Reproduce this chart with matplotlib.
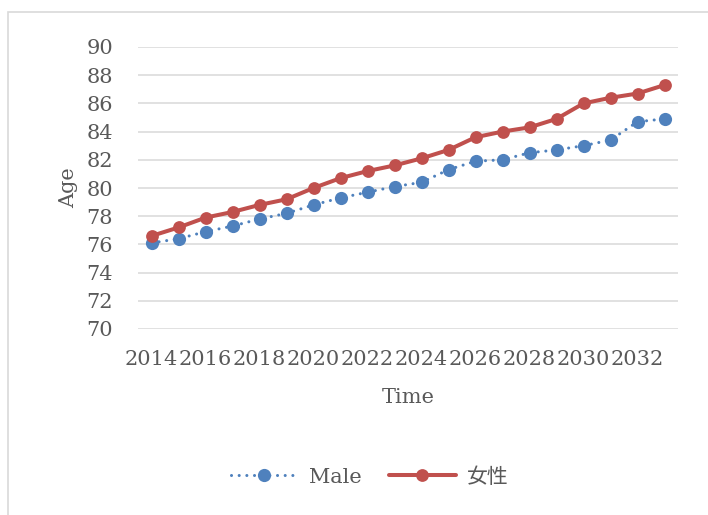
import numpy as np
import matplotlib.pyplot as plt
from matplotlib.patches import Rectangle

# Years on the category axis and life expectancy for each series
years = list(range(2014, 2034))
male = [76.1, 76.4, 76.9, 77.3, 77.8, 78.2, 78.8, 79.3, 79.7, 80.1,
        80.4, 81.3, 81.9, 82.0, 82.5, 82.7, 83.0, 83.4, 84.7, 84.9]
female = [76.6, 77.2, 77.9, 78.3, 78.8, 79.2, 80.0, 80.7, 81.2, 81.6,
          82.1, 82.7, 83.6, 84.0, 84.3, 84.9, 86.0, 86.4, 86.7, 87.3]

blue = '#4F81BD'
red = '#C0504D'
grey_text = '#595959'
grid_grey = '#D9D9D9'
serif = ['DejaVu Serif', 'Noto Sans CJK JP']
fs = 15

fig = plt.figure(figsize=(7.08, 5.15), dpi=100)
ax = fig.add_axes([138 / 708, 1 - 329 / 515, 540 / 708, 282 / 515])

x = np.arange(len(years))
ax.plot(x, male, color=blue, lw=2.2, linestyle=(0, (0.01, 2.5)),
        dash_capstyle='round', marker='o', markersize=9.5,
        markeredgewidth=0, label='Male', zorder=3)
ax.plot(x, female, color=red, lw=2.9, solid_capstyle='round',
        marker='o', markersize=9.2, markeredgewidth=0, label='女性', zorder=3)

ax.set_xlim(-0.5, len(years) - 0.5)
ax.set_ylim(70, 90)
ax.set_yticks(np.arange(70, 91, 2))
ax.set_xticks(x[::2])
ax.set_xticklabels([str(y) for y in years[::2]])
ax.grid(axis='y', color=grid_grey, lw=1.1)
ax.set_axisbelow(True)
for s in ax.spines.values():
    s.set_visible(False)

ax.tick_params(axis='both', length=0, labelsize=fs, labelcolor=grey_text)
ax.tick_params(axis='x', pad=15)
ax.tick_params(axis='y', pad=18)
for lab in ax.get_xticklabels() + ax.get_yticklabels():
    lab.set_family(serif)

ax.set_xlabel('Time', fontsize=fs, color=grey_text, family=serif)
ax.xaxis.set_label_coords(0.5, -0.21)
ax.set_ylabel('Age', fontsize=fs, color=grey_text, family=serif)
ax.yaxis.set_label_coords(-0.11, 0.5)

leg = fig.legend(loc='center', bbox_to_anchor=(370 / 708, 1 - 477 / 515),
                 ncol=2, frameon=False, handlelength=3.2, columnspacing=1.3,
                 handletextpad=0.55, prop={'family': serif, 'size': fs})
for t in leg.get_texts():
    t.set_color(grey_text)

# chart border
fig.patches.append(Rectangle((8 / 708, -0.1), 1.2, 1.1 - 12 / 515,
                             transform=fig.transFigure, fill=False,
                             edgecolor=grid_grey, lw=1.2))

fig.savefig('out.png', dpi=100)
